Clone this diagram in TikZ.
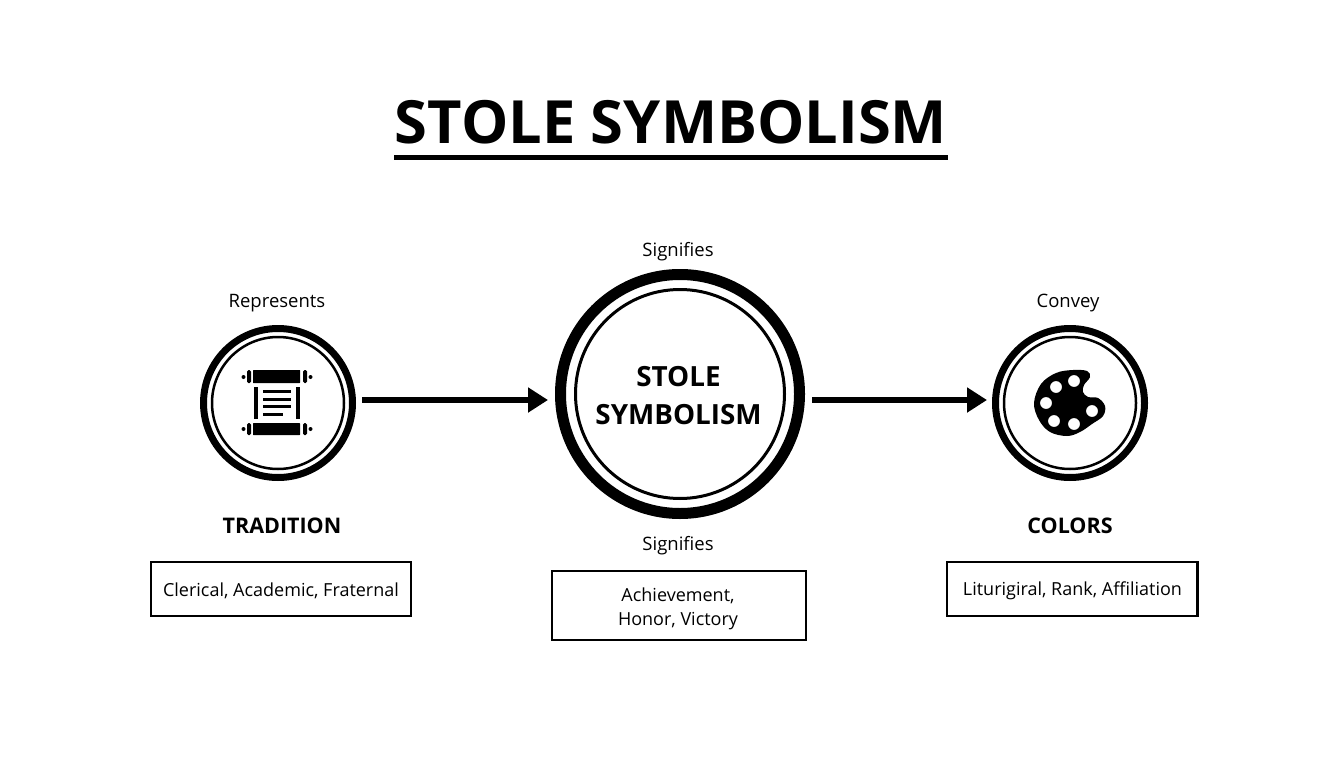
\documentclass[tikz,border=0pt]{standalone}
\usepackage{fontspec}
\setmainfont{Open Sans}
\usetikzlibrary{arrows.meta}
\tikzset{
  ringbig/.style={circle,draw,line width=7pt,minimum size=149pt,inner sep=0pt},
  ringsmall/.style={circle,draw,line width=2.5pt,minimum size=132pt,inner sep=0pt},
  ringmainbig/.style={circle,draw,line width=11pt,minimum size=239pt,inner sep=0pt},
  ringmainsmall/.style={circle,draw,line width=3pt,minimum size=209pt,inner sep=0pt},
  maintext/.style={font=\bfseries\fontsize{27.8}{38}\selectfont,align=center},
  toplabel/.style={font=\fontsize{18.5}{20}\selectfont},
  headlabel/.style={font=\bfseries\fontsize{21.5}{24}\selectfont},
  notebox/.style={draw,line width=2.5pt},
  notetext/.style={font=\fontsize{18}{24}\selectfont,align=center},
  flowarrow/.style={line width=6.5pt,-{Triangle[length=20pt,width=24pt]}}
}
\begin{document}
\begin{tikzpicture}[x=1pt,y=-1pt]
  \useasboundingbox (0,0) rectangle (1344,768);
  \node[font=\bfseries\fontsize{59.6}{70}\selectfont] (title) at (671,122) {STOLE SYMBOLISM};
  \coordinate (rulel) at (394,157);
  \coordinate (ruler) at (948,157);
  \draw[line width=5pt] (rulel) -- (ruler);
  \node[ringbig] (trad) at (278,403) {};
  \node[ringsmall] (tradin) at (trad) {};
  \node[ringmainbig] (main) at (680,394) {};
  \node[ringmainsmall] (mainin) at (main) {};
  \node[maintext] (mainlabel) at (678.5,396) {STOLE\\SYMBOLISM};
  \node[ringbig] (col) at (1070,403) {};
  \node[ringsmall] (colin) at (col) {};
  \draw
    (277,303.5) node[toplabel] (rep) {Represents}
    (678,252) node[toplabel] (sigup) {Signifies}
    (678,546) node[toplabel] (sigdown) {Signifies}
    (1068,303.5) node[toplabel] (conv) {Convey}
    (282,526) node[headlabel] (tradhead) {TRADITION}
    (1070,526) node[headlabel] (colhead) {COLORS};
  \node[notebox,minimum width=260pt,minimum height=54pt] (tradbox) at (281,589) {};
  \node[notebox,minimum width=254pt,minimum height=69pt] (mainbox) at (679,605.5) {};
  \node[notebox,minimum width=250.5pt,minimum height=54pt] (colbox) at (1072.3,589) {};
  \node[notetext] (tradnote) at (281,591) {Clerical, Academic, Fraternal};
  \node[notetext] (mainnote) at (678,608.5) {Achievement,\\Honor, Victory};
  \node[notetext] (colnote) at (1072.5,591) {Liturigiral, Rank, Affiliation};
  \draw[flowarrow,shorten <=6pt,shorten >=7pt] ([yshift=3pt]trad.east) -- ([yshift=-6pt]main.west);
  \draw[flowarrow,shorten <=7pt,shorten >=5pt] ([yshift=-6pt]main.east) -- ([yshift=3pt]col.west);
  \begin{scope}
    \fill[rounded corners=0.5pt] (253,370) rectangle (300,383);
    \fill[rounded corners=0.5pt] (253,423) rectangle (300,435);
    \fill[rounded corners=1.5pt] (247,370) rectangle (251,383);
    \fill[rounded corners=1.5pt] (303,370) rectangle (307,383);
    \fill[rounded corners=1.5pt] (247,423) rectangle (251,435);
    \fill[rounded corners=1.5pt] (303,423) rectangle (307,435);
    \fill (243.5,377) circle (2);
    \fill (310.5,377) circle (2);
    \fill (243.5,429) circle (2);
    \fill (310.5,429) circle (2);
    \fill (254,387) rectangle (258,419);
    \fill (296,387) rectangle (300,419);
    \draw[line width=3pt] (263,391) -- (291,391);
    \draw[line width=3pt] (263,399) -- (291,399);
    \draw[line width=3pt] (263,406) -- (291,406);
    \draw[line width=3pt] (263,414) -- (283,414);
  \end{scope}
  \fill[even odd rule]
    plot[smooth cycle,tension=0.6] coordinates {(1034,403) (1041,384) (1056,373) (1073,370) (1087,371) (1090,377) (1084,385) (1083,392) (1088,397) (1098,398) (1105,406) (1103,416) (1092,424) (1080,432) (1067,436) (1050,432) (1039,420)}
    (1056,387) circle (6)
    (1074,381) circle (6)
    (1046,403) circle (6)
    (1054,421) circle (6)
    (1074,424) circle (6)
    (1092,411) circle (6);
\end{tikzpicture}
\end{document}
